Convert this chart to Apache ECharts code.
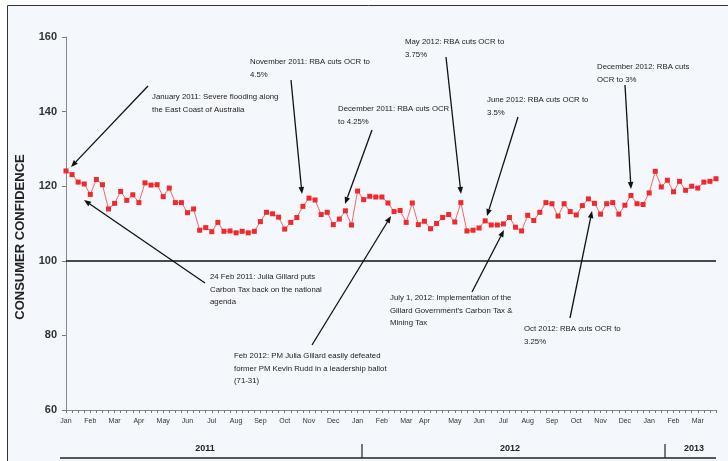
<!DOCTYPE html>
<html>
<head>
<meta charset="utf-8">
<title>Consumer confidence 2011-2013</title>
<script src="https://cdn.jsdelivr.net/npm/echarts@6/dist/echarts.min.js"></script>
<style>
  html, body { margin: 0; padding: 0; background: #fff; }
  #chart { width: 728px; height: 461px; }
</style>
</head>
<body>
<div id="chart"></div>
<script>
// weekly readings, Jan 2011 -> Mar 2013
const confidence = [
  124.1, 123.1, 121.1, 120.6, 117.8, 121.8, 120.4, 113.9, 115.4, 118.6, 116.2, 117.7, 115.6, 120.9, 120.3, 120.4, 117.2, 119.5, 115.6, 115.6, 112.9, 113.9,
  108.2, 108.9, 107.8, 110.3, 107.9, 108.0, 107.5, 107.9, 107.5, 107.9, 110.5, 113.0, 112.6, 111.7, 108.5, 110.3, 111.6, 114.6, 116.8, 116.3, 112.4,
  113.0, 109.7, 111.2, 113.4, 109.6, 118.7, 116.4, 117.3, 117.1, 117.1, 115.5, 113.2, 113.5, 110.3, 115.5, 109.7, 110.6, 108.6, 110.0, 111.6, 112.4, 110.4,
  115.6, 108.0, 108.2, 108.8, 110.7, 109.6, 109.6, 109.9, 111.6, 109.0, 108.0, 112.2, 110.8, 113.0, 115.6, 115.3, 112.0, 115.3, 113.2, 112.3, 114.8,
  116.6, 115.4, 112.5, 115.3, 115.6, 112.5, 114.9, 117.5, 115.3, 115.1, 118.2, 124.0, 119.8, 121.6, 118.5, 121.3, 118.9, 120.0, 119.5, 121.1, 121.3, 122.0
];

// month labels and the week each one sits on
const monthNames = ['Jan', 'Feb', 'Mar', 'Apr', 'May', 'Jun', 'Jul', 'Aug', 'Sep', 'Oct', 'Nov', 'Dec',
  'Jan', 'Feb', 'Mar', 'Apr', 'May', 'Jun', 'Jul', 'Aug', 'Sep', 'Oct', 'Nov', 'Dec',
  'Jan', 'Feb', 'Mar'];
const monthWeek = [0, 4, 8, 12, 16, 20, 24, 28, 32, 36, 40, 44,
  48, 52, 56, 59, 64, 68, 72, 76, 80, 84, 88, 92,
  96, 100, 104];

const years = ['2011', '2012', '2013'];
const yearTextX = [205, 510, 694];
const yearBreakX = [362, 665];

const baseline = 100;

// annotation texts, their place and where the arrow goes
const notes = [
  { lines: ['January 2011: Severe flooding along', 'the East Coast of Australia'], x: 152, y: 91, from: [148, 86], to: [71, 167] },
  { lines: ['November 2011: RBA cuts OCR to', '4.5%'], x: 250, y: 56, from: [291, 80], to: [302, 194] },
  { lines: ['December 2011: RBA cuts OCR', 'to 4.25%'], x: 338, y: 103, from: [372, 130], to: [345, 204] },
  { lines: ['May 2012: RBA cuts OCR to', '3.75%'], x: 405, y: 36, from: [446, 57], to: [461, 194] },
  { lines: ['June 2012: RBA cuts OCR to', '3.5%'], x: 487, y: 94, from: [518, 117], to: [487, 216] },
  { lines: ['December 2012: RBA cuts', 'OCR to 3%'], x: 597, y: 61, from: [625, 85], to: [631, 189] },
  { lines: ['24 Feb 2011: Julia Gillard puts', 'Carbon Tax back on the national', 'agenda'], x: 210, y: 271, from: [205, 283], to: [84, 200] },
  { lines: ['Feb 2012: PM Julia Gillard easily defeated', 'former PM Kevin Rudd in a leadership ballot', '(71-31)'], x: 234, y: 350, from: [312, 345], to: [391, 216] },
  { lines: ['July 1, 2012: Implementation of the', "Gillard Government's Carbon Tax &", 'Mining Tax'], x: 390, y: 292, from: [472, 292], to: [504, 230] },
  { lines: ['Oct 2012: RBA cuts OCR to', '3.25%'], x: 524, y: 323, from: [570, 318], to: [592, 211] }
];

const categories = confidence.map((v, i) => {
  const k = monthWeek.indexOf(i);
  return k >= 0 ? monthNames[k] : '';
});

const font = 'Liberation Sans, Arial, sans-serif';

function arrow(from, to) {
  const dx = to[0] - from[0], dy = to[1] - from[1];
  const len = Math.sqrt(dx * dx + dy * dy);
  const ux = dx / len, uy = dy / len;
  const bx = to[0] - ux * 7, by = to[1] - uy * 7;
  return [
    {
      type: 'line', silent: true, z: 20,
      shape: { x1: from[0], y1: from[1], x2: bx, y2: by },
      style: { stroke: '#111', lineWidth: 1.3 }
    },
    {
      type: 'polygon', silent: true, z: 20,
      shape: { points: [to, [bx - uy * 2.8, by + ux * 2.8], [bx + uy * 2.8, by - ux * 2.8]] },
      style: { fill: '#111' }
    }
  ];
}

const graphics = [
  {
    type: 'rect', silent: true, z: -10,
    shape: { x: 7.5, y: 5.5, width: 740, height: 470 },
    style: { fill: '#f4f7fb', stroke: '#333', lineWidth: 1 }
  },
  {
    type: 'text', silent: true, x: 20, y: 237, rotation: Math.PI / 2,
    style: { text: 'CONSUMER CONFIDENCE', font: 'bold 13px ' + font, fill: '#222', align: 'center', verticalAlign: 'middle' }
  },
  {
    type: 'line', silent: true,
    shape: { x1: 60, y1: 458, x2: 716, y2: 458 },
    style: { stroke: '#222', lineWidth: 1.5 }
  }
];

yearBreakX.forEach(x => {
  graphics.push({
    type: 'line', silent: true,
    shape: { x1: x, y1: 444, x2: x, y2: 458 },
    style: { stroke: '#222', lineWidth: 1.2 }
  });
});

years.forEach((y, i) => {
  graphics.push({
    type: 'text', silent: true, x: yearTextX[i], y: 449,
    style: { text: y, font: 'bold 9px ' + font, fill: '#222', align: 'center', verticalAlign: 'middle' }
  });
});

notes.forEach(n => {
  graphics.push({
    type: 'text', silent: true, x: n.x, y: n.y, z: 20,
    style: { text: n.lines.join('\n'), font: '7.8px ' + font, fill: '#222', lineHeight: 12.5, verticalAlign: 'top' }
  });
  graphics.push(...arrow(n.from, n.to));
});

const chart = echarts.init(document.getElementById('chart'));
chart.setOption({
  backgroundColor: '#fff',
  animation: false,
  grid: { left: 66, right: 12, top: 37, bottom: 51 },
  xAxis: {
    type: 'category',
    data: categories,
    boundaryGap: false,
    axisLine: { lineStyle: { color: '#888', width: 1 } },
    axisTick: { interval: 0, length: 3, lineStyle: { color: '#777' } },
    axisLabel: { interval: 0, fontSize: 7, color: '#333', fontFamily: font, margin: 8 }
  },
  yAxis: {
    type: 'value',
    min: 60,
    max: 160,
    interval: 20,
    splitLine: { show: false },
    axisLine: { show: true, lineStyle: { color: '#888', width: 1 } },
    axisTick: { show: true, length: 4, lineStyle: { color: '#777' } },
    axisLabel: { fontSize: 11, fontWeight: 'bold', color: '#333', fontFamily: font, margin: 9 }
  },
  series: [
    {
      type: 'line',
      data: confidence,
      symbol: 'rect',
      symbolSize: 5,
      lineStyle: { color: '#f26a63', width: 1 },
      itemStyle: { color: '#ee2a2f' },
      markLine: {
        silent: true,
        symbol: 'none',
        label: { show: false },
        lineStyle: { color: '#111', width: 1.5, type: 'solid' },
        data: [{ yAxis: baseline }]
      }
    }
  ],
  graphic: graphics
});
</script>
</body>
</html>
